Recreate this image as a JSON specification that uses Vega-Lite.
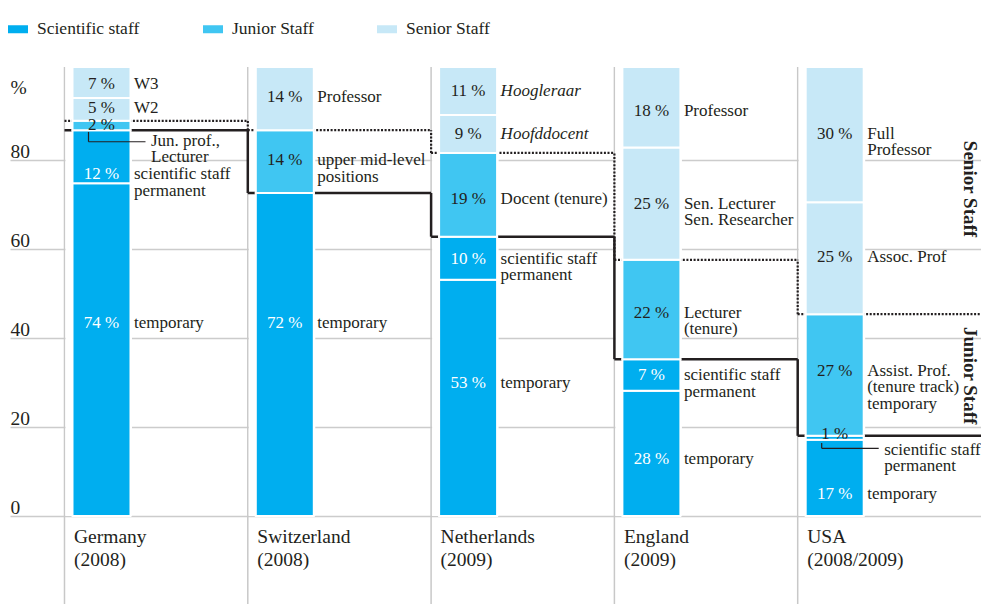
{
  "$schema": "https://vega.github.io/schema/vega-lite/v6.json",
  "width": 971,
  "height": 503,
  "autosize": {"type": "none"},
  "padding": {"left": 10, "top": 13, "right": 0, "bottom": 88},
  "config": {
    "font": "Liberation Serif",
    "view": {"stroke": null},
    "axis": {"labelFont": "Liberation Serif", "titleFont": "Liberation Serif"},
    "legend": {"labelFont": "Liberation Serif"}
  },
  "datasets": {
    "segs": [
      {"country": "Germany (2008)", "k": 1, "cat": "Scientific staff", "value": 74.7, "pct": "74 %", "desc": "temporary", "at": 42.2},
      {"country": "Germany (2008)", "k": 2, "cat": "Scientific staff", "value": 11.9, "pct": "12 %", "desc": "scientific staff\npermanent", "at": 75.6},
      {"country": "Germany (2008)", "k": 3, "cat": "Junior Staff", "value": 2.1, "pct": "2 %", "desc": "", "at": 86.6},
      {"country": "Germany (2008)", "k": 4, "cat": "Senior Staff", "value": 5.1, "pct": "5 %", "desc": "W2", "at": 90.5},
      {"country": "Germany (2008)", "k": 5, "cat": "Senior Staff", "value": 7.0, "pct": "7 %", "desc": "W3", "at": 95.8},
      {"country": "Switzerland (2008)", "k": 1, "cat": "Scientific staff", "value": 72.5, "pct": "72 %", "desc": "temporary", "at": 42.2},
      {"country": "Switzerland (2008)", "k": 2, "cat": "Junior Staff", "value": 14.1, "pct": "14 %", "desc": "upper mid-level\npositions", "at": 78.7},
      {"country": "Switzerland (2008)", "k": 3, "cat": "Senior Staff", "value": 14.2, "pct": "14 %", "desc": "Professor", "at": 92.9},
      {"country": "Netherlands (2009)", "k": 1, "cat": "Scientific staff", "value": 53.0, "pct": "53 %", "desc": "temporary", "at": 28.7},
      {"country": "Netherlands (2009)", "k": 2, "cat": "Scientific staff", "value": 9.7, "pct": "10 %", "desc": "scientific staff\npermanent", "at": 56.6},
      {"country": "Netherlands (2009)", "k": 3, "cat": "Junior Staff", "value": 18.8, "pct": "19 %", "desc": "Docent (tenure)", "at": 70.0},
      {"country": "Netherlands (2009)", "k": 4, "cat": "Senior Staff", "value": 8.5, "pct": "9 %", "desc": "Hoofddocent", "at": 84.6},
      {"country": "Netherlands (2009)", "k": 5, "cat": "Senior Staff", "value": 10.8, "pct": "11 %", "desc": "Hoogleraar", "at": 94.3},
      {"country": "England (2009)", "k": 1, "cat": "Scientific staff", "value": 28.1, "pct": "28 %", "desc": "temporary", "at": 11.7},
      {"country": "England (2009)", "k": 2, "cat": "Scientific staff", "value": 7.1, "pct": "7 %", "desc": "scientific staff\npermanent", "at": 30.5},
      {"country": "England (2009)", "k": 3, "cat": "Junior Staff", "value": 22.3, "pct": "22 %", "desc": "Lecturer\n(tenure)", "at": 44.5},
      {"country": "England (2009)", "k": 4, "cat": "Senior Staff", "value": 25.2, "pct": "25 %", "desc": "Sen. Lecturer\nSen. Researcher", "at": 69.0},
      {"country": "England (2009)", "k": 5, "cat": "Senior Staff", "value": 18.1, "pct": "18 %", "desc": "Professor", "at": 89.8},
      {"country": "USA (2008/2009)", "k": 1, "cat": "Scientific staff", "value": 17.1, "pct": "17 %", "desc": "temporary", "at": 3.9},
      {"country": "USA (2008/2009)", "k": 2, "cat": "Scientific staff", "value": 0.9, "pct": "1 %", "desc": "", "at": 17.3},
      {"country": "USA (2008/2009)", "k": 3, "cat": "Junior Staff", "value": 27.3, "pct": "27 %", "desc": "Assist. Prof.\n(tenure track)\ntemporary", "at": 31.4},
      {"country": "USA (2008/2009)", "k": 4, "cat": "Senior Staff", "value": 25.1, "pct": "25 %", "desc": "Assoc. Prof", "at": 56.9},
      {"country": "USA (2008/2009)", "k": 5, "cat": "Senior Staff", "value": 30.4, "pct": "30 %", "desc": "Full\nProfessor", "at": 84.6}
    ],
    "steps": [
      {"country": "Germany (2008)", "sci": 86.6, "sciPrev": null, "jun": 88.7, "junPrev": null},
      {"country": "Switzerland (2008)", "sci": 72.5, "sciPrev": 86.6, "jun": 86.6, "junPrev": 88.7},
      {"country": "Netherlands (2009)", "sci": 62.7, "sciPrev": 72.5, "jun": 81.5, "junPrev": 86.6},
      {"country": "England (2009)", "sci": 35.2, "sciPrev": 62.7, "jun": 57.5, "junPrev": 81.5},
      {"country": "USA (2008/2009)", "sci": 18.0, "sciPrev": 35.2, "jun": 45.3, "junPrev": 57.5}
    ],
    "notes": [
      {"country": "Germany (2008)", "text": "Jun. prof.,\nLecturer", "at": 83.1, "top": 86.2, "bottom": 84.0},
      {"country": "USA (2008/2009)", "text": "scientific staff\npermanent", "at": 13.7, "top": 16.4, "bottom": 15.2}
    ],
    "side": [
      {"country": "USA (2008/2009)", "text": "Senior Staff", "at": 73.4},
      {"country": "USA (2008/2009)", "text": "Junior Staff", "at": 31.5}
    ]
  },
  "layer": [
    {
      "data": {"name": "steps"},
      "mark": {"type": "rule", "color": "#c8c8c8", "strokeWidth": 1.5},
      "encoding": {
        "x": {
          "field": "country", "type": "nominal", "bandPosition": 0,
          "scale": {
            "domain": ["Germany (2008)", "Switzerland (2008)", "Netherlands (2009)", "England (2009)", "USA (2008/2009)"],
            "paddingInner": 0, "paddingOuter": 0.14866, "align": 1
          },
          "axis": {
            "title": null, "ticks": false, "domain": false, "grid": false,
            "labelAngle": 0, "labelAlign": "left", "labelBaseline": "top", "labelOffset": -82.15, "labelPadding": 11.8,
            "labelFontSize": 19.5, "labelLineHeight": 22.6, "labelColor": "#231f20",
            "labelFlush": false, "labelOverlap": false, "labelBound": false, "labelLimit": 0,
            "labelExpr": "[slice(datum.label, 0, indexof(datum.label, ' (')), slice(datum.label, indexof(datum.label, ' (') + 1)]"
          }
        },
        "y": {
          "datum": 100.8, "type": "quantitative",
          "scale": {"domain": [0, 112.9], "nice": false, "zero": false},
          "axis": {
            "values": [0, 20, 40, 60, 80], "grid": true, "gridColor": "#cccccc", "gridWidth": 1.5,
            "domain": false, "ticks": false, "labelAlign": "left", "labelBaseline": "alphabetic",
            "labelPadding": 0, "labelOffset": -2.5, "labelFontSize": 19.5, "labelColor": "#231f20",
            "title": "%", "titleAngle": 0, "titleAlign": "left", "titleBaseline": "alphabetic",
            "titleX": 0, "titleY": 80, "titleFontSize": 19.5, "titleFontWeight": "normal", "titleColor": "#231f20"
          }
        },
        "y2": {"datum": -20}
      }
    },
    {
      "data": {"name": "segs"},
      "mark": {"type": "bar", "color": "#ffffff", "width": 66.5, "xOffset": -57.4},
      "encoding": {
        "x": {"field": "country", "type": "nominal"},
        "y": {"aggregate": "sum", "field": "value", "type": "quantitative"}
      }
    },
    {
      "data": {"name": "steps"},
      "mark": {"type": "rule", "color": "#231f20", "strokeWidth": 2.5},
      "encoding": {
        "x": {"field": "country", "type": "nominal", "bandPosition": 0},
        "x2": {"field": "country", "bandPosition": 1},
        "y": {"field": "sci", "type": "quantitative"}
      }
    },
    {
      "data": {"name": "steps"},
      "transform": [{"filter": "datum.sciPrev != null"}],
      "mark": {"type": "rule", "color": "#231f20", "strokeWidth": 2.5},
      "encoding": {
        "x": {"field": "country", "type": "nominal", "bandPosition": 0},
        "y": {"field": "sci", "type": "quantitative"},
        "y2": {"field": "sciPrev"}
      }
    },
    {
      "data": {"name": "steps"},
      "mark": {"type": "rule", "color": "#231f20", "strokeWidth": 2.2, "strokeDash": [2, 1.6]},
      "encoding": {
        "x": {"field": "country", "type": "nominal", "bandPosition": 0},
        "x2": {"field": "country", "bandPosition": 1},
        "y": {"field": "jun", "type": "quantitative"}
      }
    },
    {
      "data": {"name": "steps"},
      "transform": [{"filter": "datum.junPrev != null"}],
      "mark": {"type": "rule", "color": "#231f20", "strokeWidth": 2.2, "strokeDash": [2, 1.6]},
      "encoding": {
        "x": {"field": "country", "type": "nominal", "bandPosition": 0},
        "y": {"field": "jun", "type": "quantitative"},
        "y2": {"field": "junPrev"}
      }
    },
    {
      "data": {"name": "segs"},
      "mark": {"type": "bar", "width": 58, "xOffset": -54.65, "stroke": "#ffffff", "strokeWidth": 2},
      "encoding": {
        "x": {"field": "country", "type": "nominal"},
        "y": {"field": "value", "type": "quantitative", "stack": "zero"},
        "order": {"field": "k", "type": "quantitative"},
        "color": {
          "field": "cat", "type": "nominal",
          "scale": {"domain": ["Scientific staff", "Junior Staff", "Senior Staff"], "range": ["#00aeef", "#40c6f2", "#c7e8f7"]},
          "legend": {
            "orient": "none", "legendX": -2, "legendY": 6, "direction": "horizontal", "title": null,
            "symbolType": "M-1,-0.4H1V0.4H-1Z", "symbolSize": 400, "symbolStrokeWidth": 0, "symbolOpacity": 1,
            "labelFontSize": 17.5, "labelColor": "#231f20", "labelOffset": 9, "columnPadding": 63
          }
        }
      }
    },
    {
      "data": {"name": "notes"},
      "mark": {"type": "rule", "color": "#231f20", "strokeWidth": 1.2, "xOffset": 24},
      "encoding": {
        "x": {"field": "country", "type": "nominal", "bandPosition": 0},
        "y": {"field": "top", "type": "quantitative"},
        "y2": {"field": "bottom"}
      }
    },
    {
      "data": {"name": "notes"},
      "mark": {"type": "rule", "color": "#231f20", "strokeWidth": 1.2, "xOffset": 24, "x2Offset": 81},
      "encoding": {
        "x": {"field": "country", "type": "nominal", "bandPosition": 0},
        "x2": {"field": "country", "bandPosition": 0},
        "y": {"field": "bottom", "type": "quantitative"}
      }
    },
    {
      "data": {"name": "segs"},
      "mark": {"type": "text", "align": "center", "baseline": "alphabetic", "xOffset": 37, "fontSize": 17},
      "encoding": {
        "x": {"field": "country", "type": "nominal", "bandPosition": 0},
        "y": {"field": "at", "type": "quantitative"},
        "text": {"field": "pct"},
        "fill": {"condition": {"test": "datum.cat === 'Scientific staff' && datum.value > 2", "value": "#ffffff"}, "value": "#231f20"}
      }
    },
    {
      "data": {"name": "segs"},
      "transform": [{"filter": "datum.desc !== '' && datum.desc !== 'Hoogleraar' && datum.desc !== 'Hoofddocent'"}],
      "mark": {"type": "text", "align": "left", "baseline": "alphabetic", "xOffset": 69.5, "fontSize": 17, "lineBreak": "\n", "lineHeight": 16.4, "color": "#231f20"},
      "encoding": {
        "x": {"field": "country", "type": "nominal", "bandPosition": 0},
        "y": {"field": "at", "type": "quantitative"},
        "text": {"field": "desc"}
      }
    },
    {
      "data": {"name": "segs"},
      "transform": [{"filter": "datum.desc === 'Hoogleraar' || datum.desc === 'Hoofddocent'"}],
      "mark": {"type": "text", "align": "left", "baseline": "alphabetic", "xOffset": 69.5, "fontSize": 17, "fontStyle": "italic", "color": "#231f20"},
      "encoding": {
        "x": {"field": "country", "type": "nominal", "bandPosition": 0},
        "y": {"field": "at", "type": "quantitative"},
        "text": {"field": "desc"}
      }
    },
    {
      "data": {"name": "notes"},
      "mark": {"type": "text", "align": "left", "baseline": "alphabetic", "xOffset": 86.5, "fontSize": 17, "lineBreak": "\n", "lineHeight": 16.4, "color": "#231f20"},
      "encoding": {
        "x": {"field": "country", "type": "nominal", "bandPosition": 0},
        "y": {"field": "at", "type": "quantitative"},
        "text": {"field": "text"}
      }
    },
    {
      "data": {"name": "side"},
      "mark": {"type": "text", "align": "center", "baseline": "middle", "angle": 90, "xOffset": 172, "fontSize": 19, "fontWeight": "bold", "color": "#231f20"},
      "encoding": {
        "x": {"field": "country", "type": "nominal", "bandPosition": 0},
        "y": {"field": "at", "type": "quantitative"},
        "text": {"field": "text"}
      }
    },
    {
      "mark": {"type": "rule", "color": "#231f20", "strokeWidth": 1.5},
      "encoding": {"y": {"datum": 100.8, "type": "quantitative"}}
    },
    {
      "mark": {"type": "rule", "color": "#7f7f7f", "strokeWidth": 2},
      "encoding": {"y": {"datum": 112.9, "type": "quantitative"}}
    }
  ]
}
